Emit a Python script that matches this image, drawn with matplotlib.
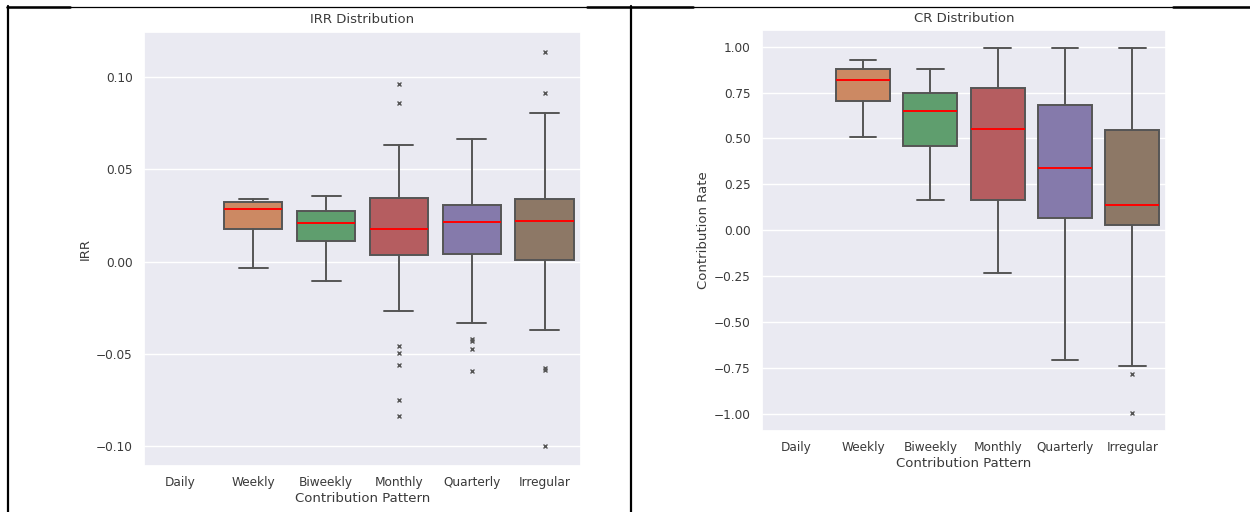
import numpy as np
import matplotlib
matplotlib.use("Agg")
import matplotlib.pyplot as plt
from matplotlib.lines import Line2D
from matplotlib.ticker import MultipleLocator
import seaborn as sns

# categories on the x axis (Daily has no data)
categories = ["Daily", "Weekly", "Biweekly", "Monthly", "Quarterly", "Irregular"]

# IRR box statistics
irr_whislo = [np.nan, -0.0037, -0.0106, -0.0268, -0.0333, -0.0372]
irr_q1 = [np.nan, 0.0176, 0.0113, 0.0033, 0.0042, 0.0006]
irr_med = [np.nan, 0.0284, 0.0208, 0.0178, 0.0213, 0.0219]
irr_q3 = [np.nan, 0.0324, 0.0273, 0.0343, 0.0309, 0.0342]
irr_whishi = [np.nan, 0.0340, 0.0354, 0.0634, 0.0664, 0.0807]
irr_fliers = [
    [],
    [],
    [],
    [0.0964, 0.0859, -0.0457, -0.0499, -0.0560, -0.0751, -0.0840],
    [-0.0418, -0.0430, -0.0475, -0.0592],
    [0.1139, 0.0917, -0.0578, -0.0590, -0.1003],
]

# CR box statistics
cr_whislo = [np.nan, 0.509, 0.166, -0.234, -0.704, -0.736]
cr_q1 = [np.nan, 0.704, 0.459, 0.168, 0.067, 0.027]
cr_med = [np.nan, 0.816, 0.650, 0.549, 0.339, 0.137]
cr_q3 = [np.nan, 0.876, 0.749, 0.776, 0.681, 0.544]
cr_whishi = [np.nan, 0.928, 0.876, 0.991, 0.991, 0.991]
cr_fliers = [[], [], [], [], [], [-0.783, -0.992]]

sns.set_theme(style="darkgrid")
plt.rcParams["font.family"] = ["DejaVu Sans"]

W, H = 1250, 512
fig = plt.figure(figsize=(W / 100, H / 100), dpi=100)
fig.patch.set_facecolor("white")

palette = sns.color_palette("deep")
colors = [sns.desaturate(c, 0.75) for c in palette[:6]]
edge = "#555555"
text_col = "#3a3a3a"


def build_stats(whislo, q1, med, q3, whishi, fliers):
    stats, pos, cols = [], [], []
    for i in range(len(categories)):
        if np.isnan(med[i]):
            continue
        stats.append(dict(med=med[i], q1=q1[i], q3=q3[i], whislo=whislo[i],
                          whishi=whishi[i], fliers=fliers[i], label=categories[i]))
        pos.append(i)
        cols.append(colors[i])
    return stats, pos, cols


def draw(ax, stats, pos, cols, title, ylabel, step, title_pad):
    bp = ax.bxp(stats, positions=pos, widths=0.8, patch_artist=True,
                boxprops=dict(edgecolor=edge, linewidth=1.4),
                whiskerprops=dict(color=edge, linewidth=1.4),
                capprops=dict(color=edge, linewidth=1.4),
                medianprops=dict(color="red", linewidth=1.4),
                flierprops=dict(marker="x", markersize=3.5, markeredgecolor=edge,
                                markeredgewidth=1.0, linestyle="none"),
                capwidths=0.4)
    for patch, c in zip(bp["boxes"], cols):
        patch.set_facecolor(c)
    ax.set_xlim(-0.5, len(categories) - 0.5)
    ax.set_xticks(range(len(categories)))
    ax.set_xticklabels(categories)
    ax.yaxis.set_major_locator(MultipleLocator(step))
    ax.grid(axis="x", visible=False)
    ax.grid(axis="y", color="white", linewidth=1.0)
    ax.tick_params(labelsize=8.7, colors=text_col, length=0)
    ax.tick_params(axis="x", pad=7.5)
    ax.tick_params(axis="y", pad=8)
    ax.set_title(title, fontsize=9.5, color=text_col, pad=title_pad)
    ax.set_xlabel("Contribution Pattern", fontsize=9.5, color=text_col, labelpad=2)
    ax.set_ylabel(ylabel, fontsize=9.5, color=text_col, labelpad=3)


ax1 = fig.add_axes([144 / W, 1 - 466 / H, 437 / W, 434 / H])
s, p, c = build_stats(irr_whislo, irr_q1, irr_med, irr_q3, irr_whishi, irr_fliers)
draw(ax1, s, p, c, "IRR Distribution", "IRR", 0.05, 6.5)

ax2 = fig.add_axes([762 / W, 1 - 431 / H, 404 / W, 401 / H])
s, p, c = build_stats(cr_whislo, cr_q1, cr_med, cr_q3, cr_whishi, cr_fliers)
draw(ax2, s, p, c, "CR Distribution", "Contribution Rate", 0.25, 6)


# table borders of the screenshot
def seg(x0, y0, x1, y1, lw):
    fig.add_artist(Line2D([x0 / W, x1 / W], [1 - y0 / H, 1 - y1 / H],
                          transform=fig.transFigure, color="black", linewidth=lw))


seg(7, 6.5, 1250, 6.5, 0.9)
for a, b in [(7, 70), (587, 693), (1173, 1250)]:
    seg(a, 6.5, b, 6.5, 1.8)
seg(8, 6, 8, 512, 1.6)
seg(631, 6, 631, 512, 1.6)

fig.savefig("out.png", dpi=100)
